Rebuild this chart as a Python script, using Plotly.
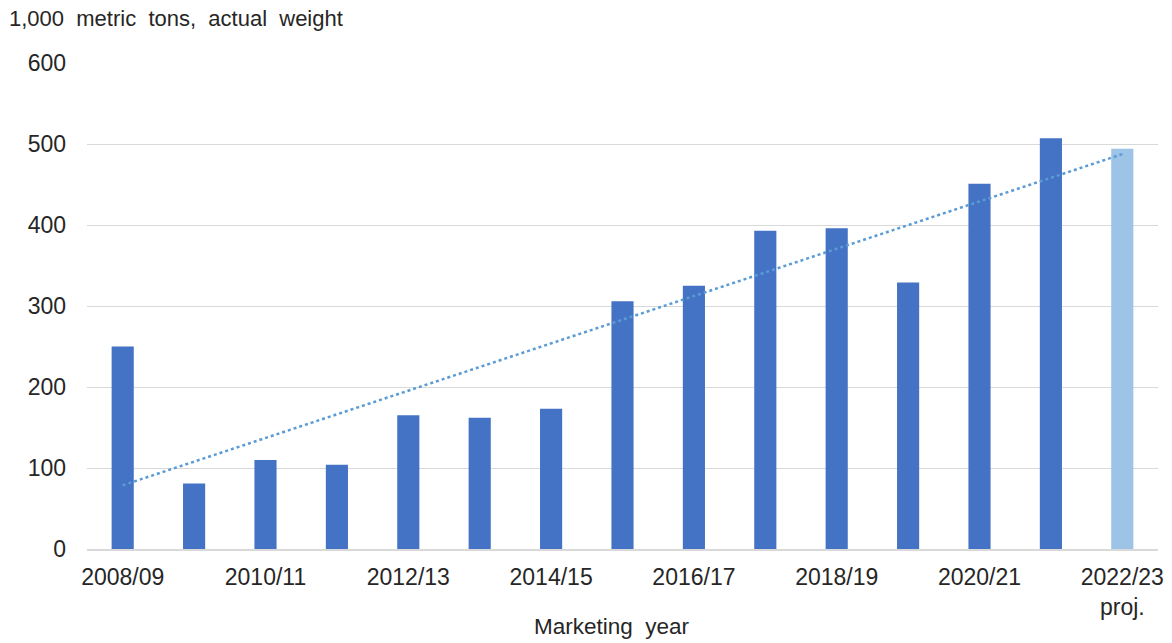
import numpy as np
import plotly.graph_objects as go

years = ["2008/09", "2009/10", "2010/11", "2011/12", "2012/13", "2013/14", "2014/15",
         "2015/16", "2016/17", "2017/18", "2018/19", "2019/20", "2020/21", "2021/22", "2022/23"]
values = [250, 81, 110, 104, 165, 162, 173, 306, 325, 393, 396, 329, 451, 507, 494]
projected = [False] * 14 + [True]
tick_years = ["2008/09", "2010/11", "2012/13", "2014/15", "2016/17", "2018/19", "2020/21", "2022/23"]
tick_labels = ["2008/09", "2010/11", "2012/13", "2014/15", "2016/17", "2018/19", "2020/21", "2022/23<br>proj."]
y_title = "1,000\u00a0 metric\u00a0 tons,\u00a0 actual\u00a0 weight"
x_title = "Marketing\u00a0 year"

DARK = "#4472C4"
LIGHT = "#9DC3E6"
colors = [LIGHT if p else DARK for p in projected]

# linear trend line fitted to the series
idx = np.arange(len(values))
slope, intercept = np.polyfit(idx, values, 1)
trend = (intercept + slope * idx).tolist()

FONT = "Liberation Sans, Arial, sans-serif"
TXT = "#262626"

fig = go.Figure()
fig.add_trace(go.Bar(x=years, y=values, marker_color=colors, marker_line_width=0,
                     width=0.31, showlegend=False))
fig.add_trace(go.Scatter(x=years, y=trend, mode="lines",
                         line=dict(color="#5B9BD5", width=2.5, dash="dot"),
                         showlegend=False))

fig.update_layout(
    width=1172, height=643,
    margin=dict(l=87, r=14, t=63, b=94, autoexpand=False),
    plot_bgcolor="white", paper_bgcolor="white",
    font=dict(family=FONT, size=20, color=TXT),
    xaxis=dict(type="category", tickmode="array", tickvals=tick_years, ticktext=tick_labels,
               showgrid=False, showline=True, linecolor="#D9D9D9", linewidth=1.5,
               ticks="", ticklabelstandoff=7, tickfont=dict(size=23), automargin=False),
    yaxis=dict(range=[0, 600], tickvals=[0, 100, 200, 300, 400, 500, 600],
               showgrid=True, gridcolor="#D9D9D9", gridwidth=1.2, zeroline=False,
               showline=False, ticks="", ticklabelstandoff=20, tickfont=dict(size=23),
               automargin=False),
    annotations=[
        dict(text=y_title, xref="paper", yref="paper",
             x=-80/1071, y=1 + 45/486, xanchor="left", yanchor="middle", showarrow=False,
             font=dict(size=22, family=FONT, color=TXT)),
        dict(text=x_title, xref="paper", yref="paper",
             x=(612-87)/1071, y=-(626-549)/486, xanchor="center", yanchor="middle", showarrow=False,
             font=dict(size=22.5, family=FONT, color=TXT)),
    ],
)

fig.write_html("out.html")
